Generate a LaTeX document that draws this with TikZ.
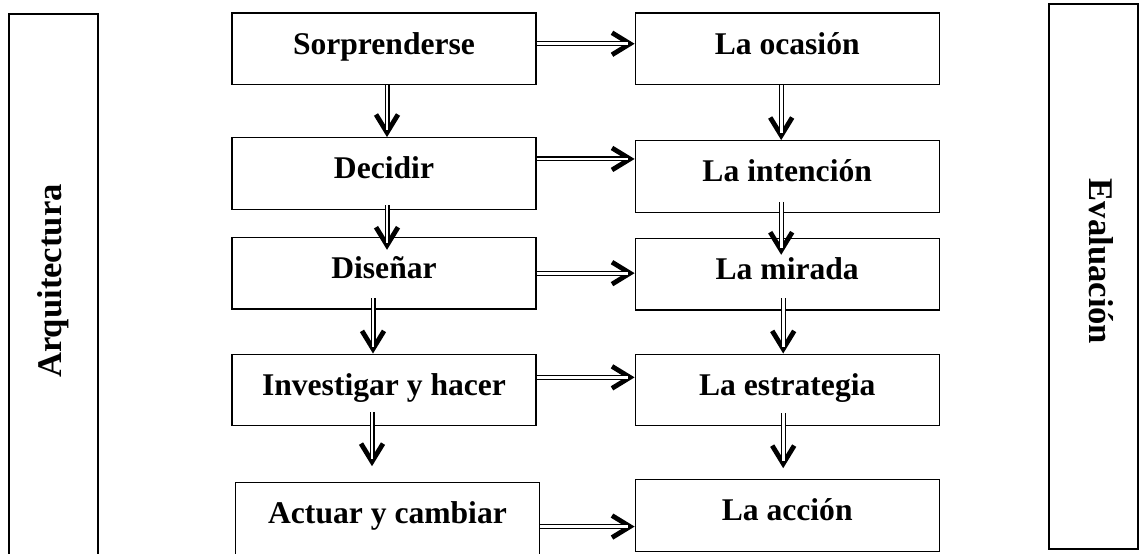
\documentclass[tikz,border=0pt]{standalone}
\usepackage{fontspec}
\setmainfont{Liberation Serif}
\usetikzlibrary{positioning,arrows.meta}

\tikzset{
  box/.style={draw, line width=0.6pt, minimum width=152pt, minimum height=35.75pt, inner sep=0pt,
    font=\fontsize{15.8}{19}\selectfont\bfseries, text height=10.7pt, text depth=5.3pt},
  sidebox/.style={draw, line width=0.6pt, minimum width=44.5pt},
  sidetext/.style={font=\fontsize{17.3}{21}\selectfont\bfseries, inner sep=0pt},
  dbl/.style={line width=1.5pt, -{Straight Barb[length=9pt,width=11pt,line width=2.4pt]},
    postaction={draw, -, line width=0.55pt, double, double distance=1.4pt, shorten >=3.5pt}}
}

\begin{document}
\begin{tikzpicture}[x=0.5pt,y=-0.5pt]
\clip (0,0) rectangle (1140,553);

% side boxes
\node[sidebox, minimum height=283pt] (arqbox) at (53.5,297) {};
\node[sidetext, rotate=90] (arq) at (53.5,281) {Arquitectura};
\node[sidebox, minimum height=272.5pt] (evabox) at (1093.5,276.5) {};
\node[sidetext, rotate=-90] (eva) at (1101,261.5) {Evaluación};

% left column
\node[box] (sorp) at (384,48.75) {Sorprenderse};
\node[box, below=26pt of sorp] (deci) {Decidir};
\node[box, below=13.5pt of deci] (dise) {Diseñar};
\node[box, below=22pt of dise] (inve) {Investigar y hacer};
\node[box, below=28pt of inve, xshift=1.75pt] (actu) {Actuar y cambiar};

% right column
\node[box, right=49pt of sorp] (ocas) {La ocasión};
\node[box, below=27.5pt of ocas] (inte) {La intención};
\node[box, below=12.5pt of inte] (mira) {La mirada};
\node[box, below=21.5pt of mira] (estr) {La estrategia};
\node[box, below=26.5pt of estr] (acci) {La acción};

% across
\draw[dbl] ([yshift=2.5pt]sorp.east) -- ([yshift=2.5pt]sorp.east -| ocas.west);
\draw[dbl] ([yshift=7.25pt]deci.east) -- ([yshift=7.25pt]deci.east -| inte.west);
\draw[dbl] (dise.east) -- (dise.east -| mira.west);
\draw[dbl] ([yshift=6.25pt]inve.east) -- ([yshift=6.25pt]inve.east -| estr.west);
\draw[dbl] ([yshift=-4pt]actu.east) -- ([yshift=-4pt]actu.east -| acci.west);

% down, left
\draw[dbl] ([xshift=1.5pt]sorp.south) -- ([xshift=1.5pt]sorp.south |- deci.north);
\draw[dbl] ([xshift=1.5pt,yshift=2.5pt]deci.south) -- ([xshift=1.5pt,yshift=-6.5pt]deci.south |- dise.north);
\draw[dbl] ([xshift=-5.5pt,yshift=5.75pt]dise.south) -- ([xshift=-5.5pt]dise.south |- inve.north);
\draw[dbl] ([xshift=-6pt,yshift=7pt]inve.south) -- ([xshift=-6pt,yshift=8pt]inve.south |- actu.north);

% down, right
\draw[dbl] ([xshift=-3pt]ocas.south) -- ([xshift=-3pt]ocas.south |- inte.north);
\draw[dbl] ([xshift=-3pt,yshift=5.5pt]inte.south) -- ([xshift=-3pt,yshift=-8.5pt]inte.south |- mira.north);
\draw[dbl] ([xshift=-2pt,yshift=6.25pt]mira.south) -- ([xshift=-2pt]mira.south |- estr.north);
\draw[dbl] ([xshift=-2pt,yshift=6.5pt]estr.south) -- ([xshift=-2pt,yshift=5.5pt]estr.south |- acci.north);
\end{tikzpicture}
\end{document}
